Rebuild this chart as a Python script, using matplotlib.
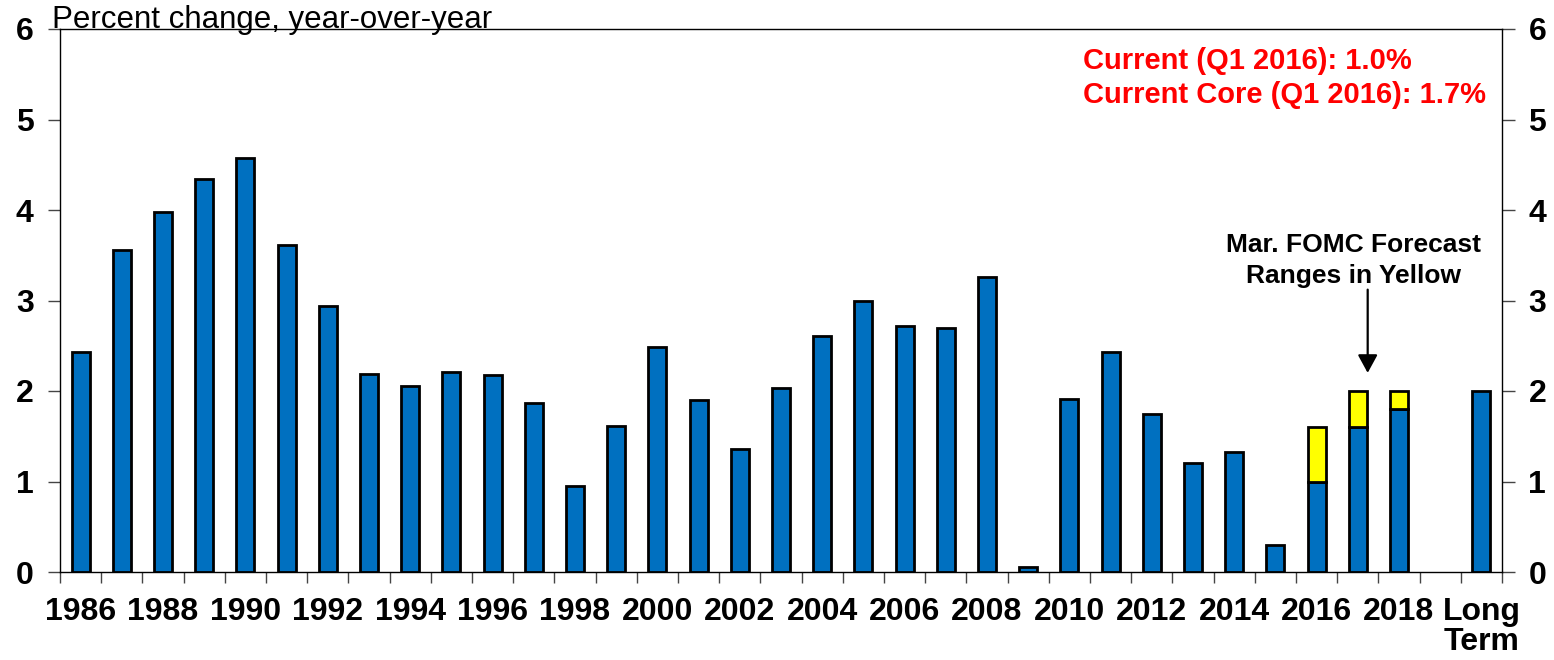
import numpy as np
import matplotlib
matplotlib.use("Agg")
import matplotlib.pyplot as plt

plt.rcParams['font.family'] = ['Liberation Sans', 'DejaVu Sans']

categories = [str(y) for y in range(1986, 2019)] + ["", "Long\nTerm"]
values = [2.43, 3.56, 3.98, 4.34, 4.57, 3.61, 2.94, 2.19, 2.06, 2.21,
          2.18, 1.87, 0.95, 1.61, 2.49, 1.90, 1.36, 2.03, 2.61, 2.99,
          2.72, 2.70, 3.26, 0.06, 1.91, 2.43, 1.75, 1.20, 1.33, 0.30,
          1.00, 1.60, 1.80, np.nan, 2.00]
range_years = ["2016", "2017", "2018"]
range_low = [1.00, 1.60, 1.80]
range_high = [1.60, 2.00, 2.00]
label_cats = [str(y) for y in range(1986, 2019, 2)] + ["Long\nTerm"]
yticks = [0, 1, 2, 3, 4, 5, 6]

BLUE = "#0070C0"
YELLOW = "#FFFF00"
TICKFS = 23

fig = plt.figure(figsize=(15.54, 6.6), dpi=100)
ax = fig.add_axes([60/1554, 1 - 572/660, (1502-60)/1554, (572-29)/660])

x = np.arange(len(categories))
ax.bar(x, values, width=0.44, color=BLUE, edgecolor="black", linewidth=2.0, zorder=3)
rx = [categories.index(c) for c in range_years]
ax.bar(rx, np.array(range_high) - np.array(range_low), bottom=range_low, width=0.44,
       color=YELLOW, edgecolor="black", linewidth=2.0, zorder=3)

ax.set_xlim(-0.5, len(categories) - 0.5)
ax.set_ylim(0, 6)

# x ticks: minor at category boundaries, labels at selected categories
ax.set_xticks(np.arange(-0.5, len(categories) + 0.5, 1), minor=True)
ax.set_xticks([categories.index(c) for c in label_cats])
ax.set_xticklabels(label_cats, fontsize=TICKFS, fontweight="bold", linespacing=1.02)
ax.tick_params(axis="x", which="major", length=0, pad=18)
ax.tick_params(axis="x", which="minor", length=8, width=1, color="#444444", direction="out")

ax.set_yticks(yticks)
ax.tick_params(axis="y", which="major", length=9, width=1, color="#444444",
               direction="out", pad=10, left=True, right=True,
               labelleft=True, labelright=True)
for t in ax.yaxis.get_major_ticks():
    for lab in (t.label1, t.label2):
        lab.set_fontsize(TICKFS)
        lab.set_fontweight("bold")

for s in ax.spines.values():
    s.set_linewidth(1.0)
    s.set_color("black")

fig.text(52/1554, 1 - 28/660, "Percent change, year-over-year", fontsize=22.5,
         ha="left", va="baseline")

ax.text(0.7094, 0.9669, "Current (Q1 2016): 1.0%\nCurrent Core (Q1 2016): 1.7%",
        transform=ax.transAxes, ha="left", va="top", color="#FF0000",
        fontsize=21, fontweight="bold", linespacing=1.28)

ax.text(0.8967, 0.6243, "Mar. FOMC Forecast\nRanges in Yellow", transform=ax.transAxes,
        ha="center", va="top", fontsize=19, fontweight="bold", linespacing=1.36)
ax.annotate("", xy=(31.24, 2.2), xytext=(31.24, 3.12),
            arrowprops=dict(arrowstyle="-|>,head_length=1.1,head_width=0.6",
                            mutation_scale=10, shrinkA=0, shrinkB=0,
                            color="black", lw=1.6))

fig.savefig("out.png", dpi=100)
